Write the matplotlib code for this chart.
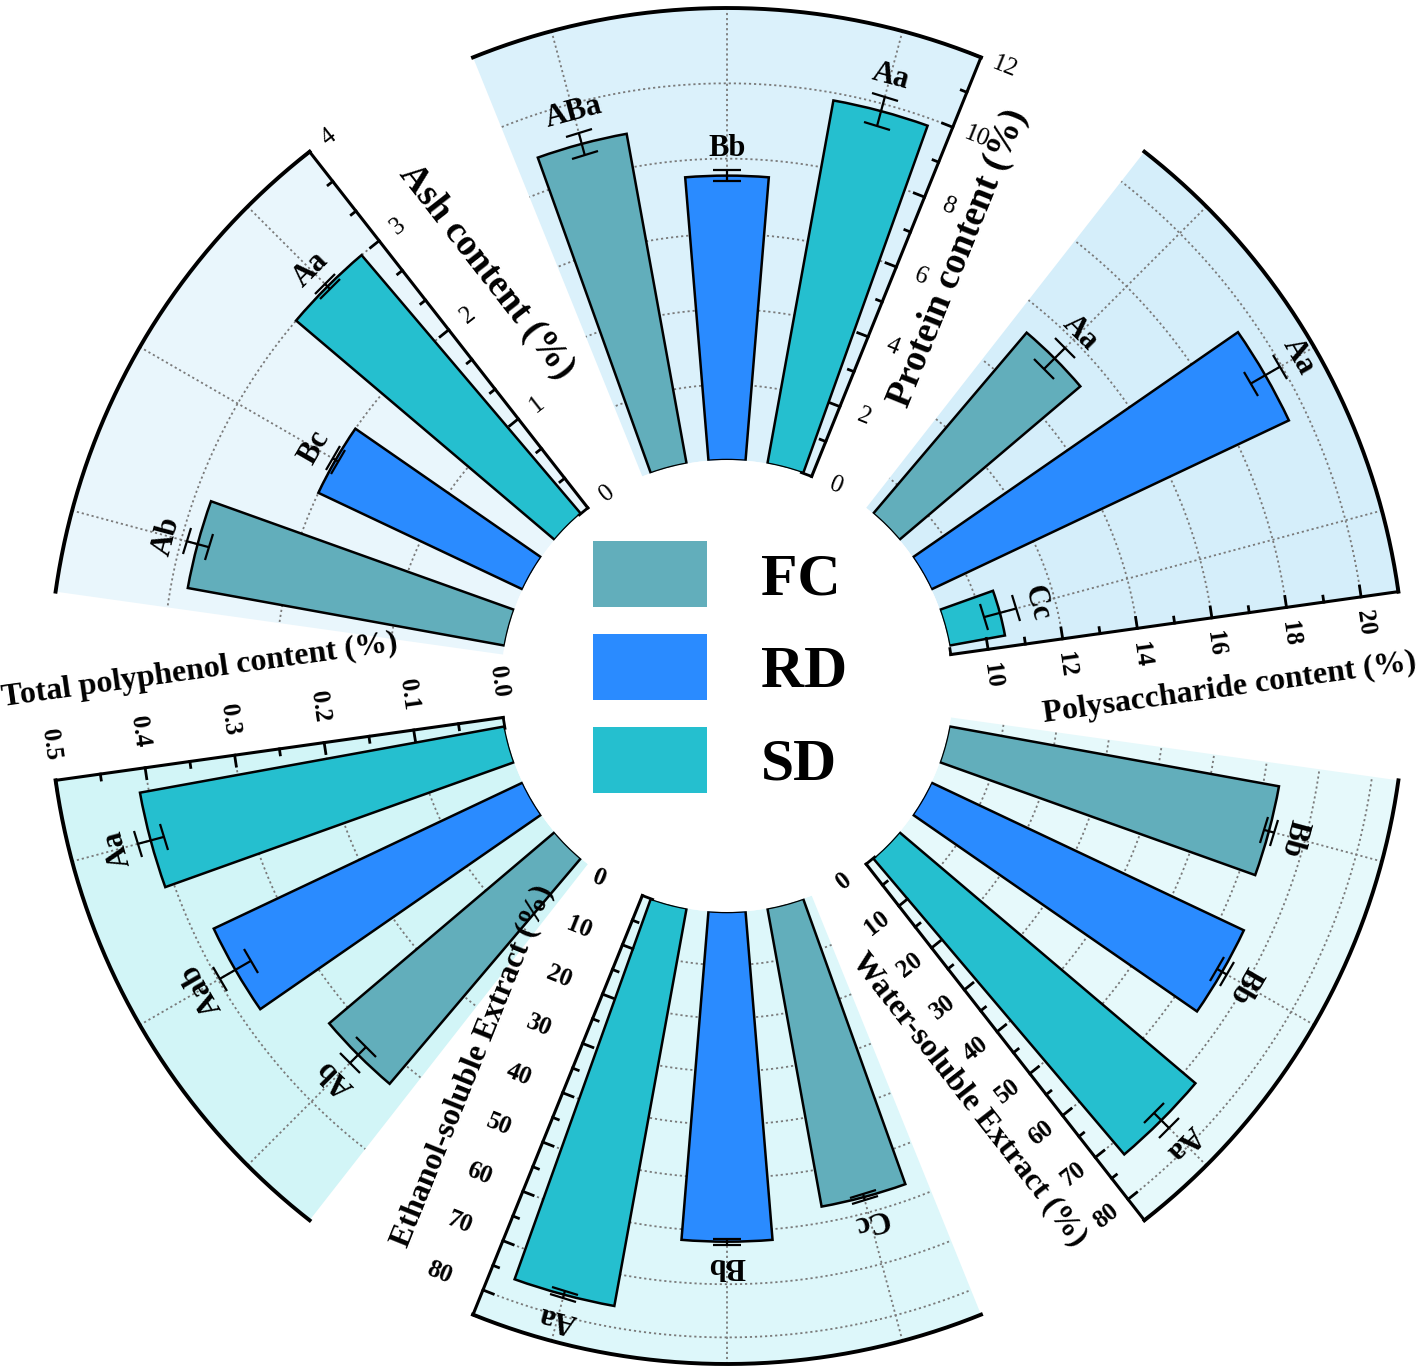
import numpy as np
import matplotlib.pyplot as plt
from matplotlib.patches import Patch
from matplotlib.text import Annotation

plt.rcParams['font.family'] = ['Liberation Serif', 'DejaVu Serif']

# ---- data ----
groups = ['FC', 'RD', 'SD']
bar_colors = ['#62aebb', '#2a8bff', '#25bfcf']

protein = [8.9, 7.55, 9.8]
protein_err = [0.3, 0.15, 0.4]
protein_sig = ['ABa', 'Bb', 'Aa']

polysac = [15.3, 19.5, 10.5]
polysac_err = [0.4, 0.45, 0.45]
polysac_sig = ['Aa', 'Aa', 'Cc']

water = [63, 65, 73]
water_err = [1.0, 1.0, 2.0]
water_sig = ['Bb', 'Bb', 'Aa']

ethanol = [57, 62, 76]
ethanol_err = [0.6, 0.6, 0.7]
ethanol_sig = ['Cc', 'Bb', 'Aa']

polyphenol = [0.327, 0.378, 0.41]
polyphenol_err = [0.012, 0.02, 0.015]
polyphenol_sig = ['Ab', 'Aab', 'Aa']

ash = [2.85, 2.0, 3.0]
ash_err = [0.1, 0.03, 0.03]
ash_sig = ['Ab', 'Bc', 'Aa']

# ---- layout (pixels) ----
W, H = 1417, 1370
CX, CY = 727, 686
R0, R1 = 226, 678
HALF = 22          # half width of a sector, deg
BAR_W = 9.4        # bar width, deg

# title, values, err, letters, centre angle, (vmin, vmax, major, minor),
# tick fmt, bold ticks, bg colour, title size, label offset, title offset, title pos
sectors = [
    ('Protein content (%)', protein, protein_err, protein_sig, 90, (0, 12, 2, 1),
     '{:.0f}', False, '#dbf1fb', 27, 26, 54, 0.57),
    ('Polysaccharide content (%)', polysac, polysac_err, polysac_sig, 30, (9, 21, 2, 1),
     '{:.0f}', True, '#d5eefa', 23, 26, 72, 0.60),
    ('Water-soluble Extract (%)', water, water_err, water_sig, -30, (0, 85, 10, 5),
     '{:.0f}', True, '#e6f9fb', 23, 28, 64, 0.55),
    ('Ethanol-soluble Extract (%)', ethanol, ethanol_err, ethanol_sig, -90, (0, 85, 10, 5),
     '{:.0f}', True, '#ddf7fa', 23, 47, 94, 0.49),
    ('Total polyphenol content (%)', polyphenol, polyphenol_err, polyphenol_sig, -150, (0, 0.5, 0.1, 0.05),
     '{:.1f}', True, '#d2f5f7', 23, 36, 88, 0.65),
    ('Ash content (%)', ash, ash_err, ash_sig, 150, (0, 4, 1, 1 / 3),
     '{:.0f}', False, '#e9f6fc', 27, 24, 66, 0.55),
]

fig = plt.figure(figsize=(W / 100, H / 100), dpi=100)
rect = [(CX - R1) / W, (H - CY - R1) / H, 2 * R1 / W, 2 * R1 / H]


def norm_rot(a):
    return (a + 90) % 180 - 90


def put_text(ax, s, xy, off, rot, size, weight):
    # texts live on the figure so no neighbouring sector background hides them
    a = Annotation(s, xy=xy, xycoords=ax.transData, xytext=off,
                   textcoords='offset pixels', ha='center', va='center',
                   rotation=rot, fontsize=size, fontweight=weight)
    fig.add_artist(a)


for i, (title, vals, errs, sig, cen, (vmin, vmax, major, minor), fmt, bold, bg,
        tsize, loff, toff, tpos) in enumerate(sectors):
    ax = fig.add_axes(rect, projection='polar', label='sector%d' % i)
    ax.set_axis_off()

    def rpx(v):
        return R0 + (v - vmin) / (vmax - vmin) * (R1 - R0)

    ta = np.deg2rad(cen - HALF)     # radial axis on the clockwise edge
    tb = np.deg2rad(cen + HALF)
    tt = np.linspace(ta, tb, 200)

    # background wedge
    ax.bar(np.deg2rad(cen), vmax - vmin, width=tb - ta, bottom=vmin,
           color=bg, linewidth=0, zorder=0)

    # grid
    majors = np.arange(np.ceil(vmin / major - 1e-9) * major, vmax + 1e-9, major) + 0.0
    for v in majors:
        if vmin < v < vmax - 1e-9:
            ax.plot(tt, np.full_like(tt, v), color='#7a7a7a', lw=1.3,
                    ls=(0, (1.2, 1.6)), zorder=1)
    th = np.deg2rad(cen + np.array([15, 0, -15]))   # FC, RD, SD
    for t in th:
        ax.plot([t, t], [vmin, vmax], color='#7a7a7a', lw=1.3,
                ls=(0, (1.2, 1.6)), zorder=1)

    # bars + error bars
    ax.bar(th, np.array(vals) - vmin, width=np.deg2rad(BAR_W), bottom=vmin,
           color=bar_colors, edgecolor='black', linewidth=1.8, zorder=3)
    ax.errorbar(th, vals, yerr=errs, fmt='none', ecolor='black', elinewidth=1.6,
                capsize=10, capthick=1.6, zorder=4, clip_on=False)
    for t, v, e, s in zip(th, vals, errs, sig):
        put_text(ax, s, (t, v + e), (21 * np.cos(t), 21 * np.sin(t)),
                 np.rad2deg(t) - 90, 22, 'bold')

    # outer arc and radial axis
    ax.plot(tt, np.full_like(tt, vmax), color='black', lw=2.8, clip_on=False, zorder=5)
    ax.plot([ta, ta], [vmin, vmax], color='black', lw=2.2, clip_on=False, zorder=5)

    for v in np.arange(vmin, vmax + 1e-9, minor):
        is_major = abs(v / major - round(v / major)) < 1e-6
        L = 11 if is_major else 6
        ax.plot([ta, ta + L / rpx(v)], [v, v], color='black', lw=2, clip_on=False, zorder=5)

    ox, oy = np.sin(ta), -np.cos(ta)      # outward normal of the axis
    lrot = norm_rot(np.rad2deg(ta) + 90)
    for v in majors:
        put_text(ax, fmt.format(v), (ta, v), (loff * ox, loff * oy), lrot, 18,
                 'bold' if bold else 'normal')

    vt = vmin + tpos * (vmax - vmin)
    put_text(ax, title, (ta, vt), (toff * ox, toff * oy),
             norm_rot(np.rad2deg(ta)), tsize, 'bold')

    ax.set_ylim(vmin, vmax)
    ax.set_rorigin(vmin - R0 / (R1 - R0) * (vmax - vmin))

handles = [Patch(facecolor=c, edgecolor='none') for c in bar_colors]
fig.legend(handles, groups, loc='center', bbox_to_anchor=(720 / W, 1 - 667 / H),
           frameon=False, prop={'weight': 'bold', 'size': 43},
           handlelength=1.9, handleheight=1.32, handletextpad=0.9, labelspacing=0.45)

fig.savefig('out.png', dpi=100)
